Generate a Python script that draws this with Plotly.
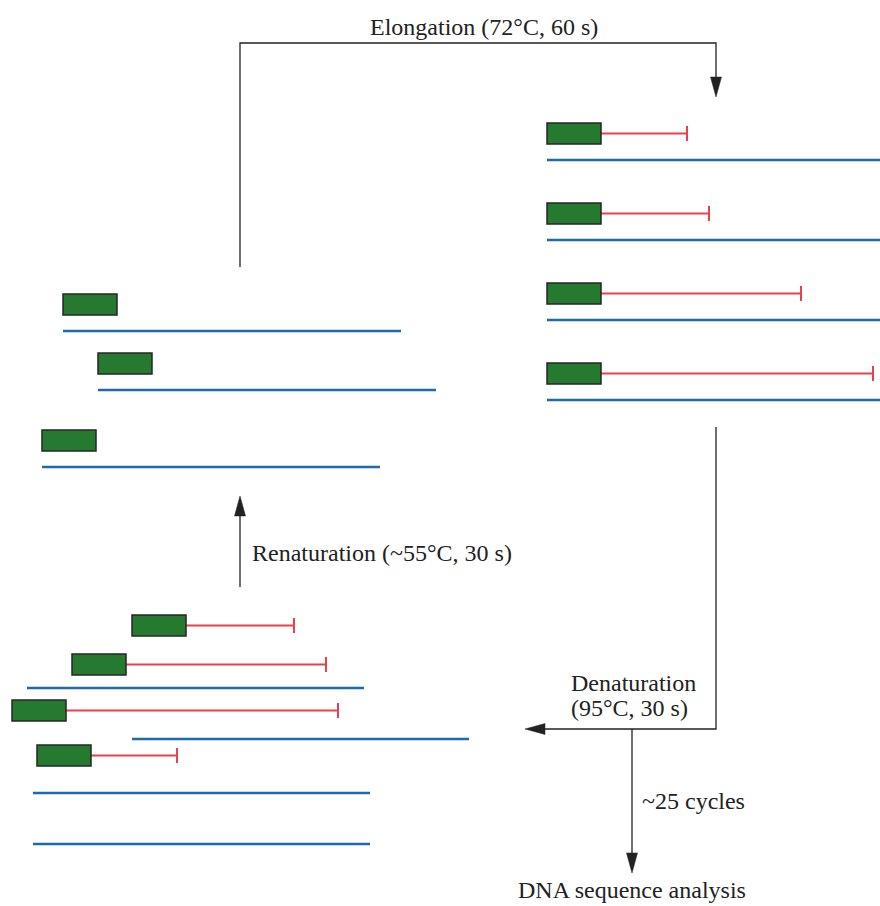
import plotly.graph_objects as go

W, H = 880, 906

# ---- Data (pixel-space diagram coordinates) ----
# Elongation stack (right): primer left x, primer top y, extension end x, template y, template x range
elong_primer_x = [547, 547, 547, 547]
elong_primer_top = [123, 203, 283, 363]
elong_ext_end = [687, 709, 801, 873]
elong_tmpl_y = [160, 240, 320, 400]
elong_tmpl_x0 = [547, 547, 547, 547]
elong_tmpl_x1 = [880, 880, 880, 880]

# Renaturation stack (left middle): primers without extension
renat_primer_x = [63, 98, 42]
renat_primer_top = [294, 353, 430]
renat_tmpl_y = [331, 390, 467]
renat_tmpl_x0 = [63, 98, 42]
renat_tmpl_x1 = [401, 436, 380]

# Denatured products (bottom left)
denat_primer_x = [132, 72, 12, 37]
denat_primer_top = [615, 654, 700, 745]
denat_ext_end = [294, 326, 338, 177]
denat_tmpl_y = [688, 739, 793, 844]
denat_tmpl_x0 = [27, 132, 33, 33]
denat_tmpl_x1 = [364, 469, 370, 370]

PRIMER_W, PRIMER_H = 54, 21

# Arrow paths (flow lines)
elong_path_x = [240, 240, 716, 716]
elong_path_y = [267, 43, 43, 92]
denat_path_x = [716, 716, 545]
denat_path_y = [427, 729, 729]
cycle_path_x = [632, 632]
cycle_path_y = [729, 855]
renat_path_x = [240, 240]
renat_path_y = [587, 515]

# Arrow tips: (x, y, direction)
arrow_tips = [(716, 97, "down"), (525, 729, "left"), (632, 873, "down"), (240, 496, "up")]

labels = [
    ("Elongation (72°C, 60 s)", 484, 27, "center"),
    ("Renaturation (~55°C, 30 s)", 250, 553, "left"),
    ("Denaturation", 569, 683, "left"),
    ("(95°C, 30 s)", 569, 708, "left"),
    ("~25 cycles", 640, 801, "left"),
    ("DNA sequence analysis", 632, 890, "center"),
]

GREEN = "#267a30"
EDGE = "#262626"
RED = "#e8404f"
BLUE = "#1f6aa8"
BLACK = "#222222"
FONT = "Liberation Serif"

fig = go.Figure()
shapes = []


def line(x0, y0, x1, y1, color, width):
    shapes.append(dict(type="line", xref="x", yref="y", x0=x0, y0=y0, x1=x1, y1=y1,
                       line=dict(color=color, width=width)))


def primer(x, top):
    shapes.append(dict(type="rect", xref="x", yref="y", x0=x, y0=top, x1=x + PRIMER_W,
                       y1=top + PRIMER_H, fillcolor=GREEN, line=dict(color=EDGE, width=1.5)))


def extension(x_start, y, x_end):
    line(x_start, y, x_end, y, RED, 2)
    line(x_end, y - 7.5, x_end, y + 7.5, RED, 2)


# templates
for x0s, x1s, ys in [(elong_tmpl_x0, elong_tmpl_x1, elong_tmpl_y),
                     (renat_tmpl_x0, renat_tmpl_x1, renat_tmpl_y),
                     (denat_tmpl_x0, denat_tmpl_x1, denat_tmpl_y)]:
    for a, b, y in zip(x0s, x1s, ys):
        line(a, y, b, y, BLUE, 2.5)

# extensions + primers
for x, t, e in zip(elong_primer_x, elong_primer_top, elong_ext_end):
    extension(x + PRIMER_W, t + PRIMER_H / 2, e)
for x, t, e in zip(denat_primer_x, denat_primer_top, denat_ext_end):
    extension(x + PRIMER_W, t + PRIMER_H / 2, e)
for x, t in zip(elong_primer_x, elong_primer_top):
    primer(x, t)
for x, t in zip(renat_primer_x, renat_primer_top):
    primer(x, t)
for x, t in zip(denat_primer_x, denat_primer_top):
    primer(x, t)

# flow lines
for px, py in [(elong_path_x, elong_path_y), (denat_path_x, denat_path_y),
               (cycle_path_x, cycle_path_y), (renat_path_x, renat_path_y)]:
    fig.add_trace(go.Scatter(x=px, y=py, mode="lines", line=dict(color=BLACK, width=1.3),
                             hoverinfo="skip", showlegend=False))

# arrow heads
L, HW = 20, 5.5
for tx, ty, d in arrow_tips:
    if d == "down":
        xs = [tx, tx - HW, tx + HW, tx]; ys = [ty, ty - L, ty - L, ty]
    elif d == "up":
        xs = [tx, tx - HW, tx + HW, tx]; ys = [ty, ty + L, ty + L, ty]
    elif d == "left":
        xs = [tx, tx + L, tx + L, tx]; ys = [ty, ty - HW, ty + HW, ty]
    else:
        xs = [tx, tx - L, tx - L, tx]; ys = [ty, ty - HW, ty + HW, ty]
    fig.add_trace(go.Scatter(x=xs, y=ys, mode="lines", fill="toself", fillcolor=BLACK,
                             line=dict(color=BLACK, width=0.5), hoverinfo="skip", showlegend=False))

for txt, x, y, al in labels:
    fig.add_annotation(x=x, y=y, xref="x", yref="y", text=txt, showarrow=False,
                       xanchor=al, yanchor="middle",
                       font=dict(family=FONT, size=24, color="#222222"))

fig.update_layout(
    width=W, height=H, margin=dict(l=0, r=0, t=0, b=0),
    plot_bgcolor="white", paper_bgcolor="white", shapes=shapes,
    xaxis=dict(range=[0, W], visible=False, fixedrange=True),
    yaxis=dict(range=[H, 0], visible=False, fixedrange=True),
    showlegend=False,
)
fig.write_html("out.html", config={"displayModeBar": False},
               post_script="document.body.style.margin='0px';document.body.style.overflow='hidden';")
